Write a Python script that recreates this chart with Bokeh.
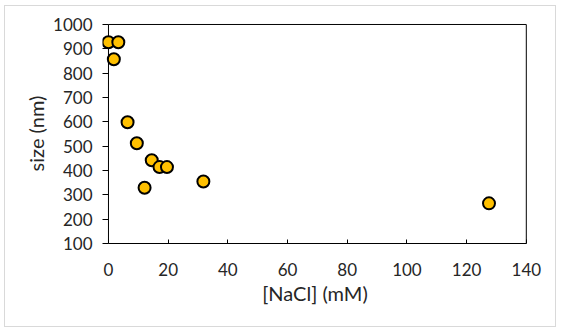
from bokeh.plotting import figure
from bokeh.models import ColumnDataSource, FixedTicker, Range1d
from bokeh.embed import file_html
from bokeh.resources import INLINE

nacl_mM = [0.0, 3.3, 1.8, 6.4, 9.5, 14.5, 17.1, 19.6, 12.1, 31.8, 127.5]
size_nm = [927, 927, 857, 598, 512, 442, 414, 414, 329, 355, 265]
x_ticks = [0, 20, 40, 60, 80, 100, 120, 140]
y_ticks = [100, 200, 300, 400, 500, 600, 700, 800, 900, 1000]
X_MIN, X_MAX = 0, 140
Y_MIN, Y_MAX = 100, 1000

FONT = "Lato"
TXT = "#262626"

# ranges padded a little so the marker at x=0 is not clipped by the frame
p = figure(width=552, height=322, output_backend="svg", toolbar_location=None,
           x_range=Range1d(X_MIN - 2.0, X_MAX + 0.4), y_range=Range1d(Y_MIN, Y_MAX + 4),
           min_border_left=97, min_border_right=30, min_border_top=17, min_border_bottom=85)
p.xgrid.visible = False
p.ygrid.visible = False
p.outline_line_color = None

# plot box: left, top and right edges
p.segment(x0=[X_MIN, X_MIN, X_MAX], y0=[Y_MIN, Y_MAX, Y_MIN],
          x1=[X_MIN, X_MAX, X_MAX], y1=[Y_MAX, Y_MAX, Y_MAX],
          line_color="black", line_width=1)

src = ColumnDataSource(dict(x=nacl_mM, y=size_nm))
p.scatter("x", "y", source=src, size=12, fill_color="#FFC000", line_color="black", line_width=2)

p.xaxis.ticker = FixedTicker(ticks=x_ticks)
p.yaxis.ticker = FixedTicker(ticks=y_ticks)
p.xaxis.bounds = (X_MIN, X_MAX)
p.xaxis.minor_tick_line_color = None
p.yaxis.minor_tick_line_color = None
p.xaxis.major_tick_in = 4
p.xaxis.major_tick_out = 0
p.yaxis.major_tick_in = 6
p.yaxis.major_tick_out = 0
p.yaxis.axis_line_color = None
for ax in (p.xaxis, p.yaxis):
    ax.major_tick_line_color = "black"
    ax.major_label_text_font = FONT
    ax.major_label_text_font_size = "17px"
    ax.major_label_text_color = TXT
    ax.axis_label_text_font = FONT
    ax.axis_label_text_font_size = "20px"
    ax.axis_label_text_font_style = "normal"
    ax.axis_label_text_color = TXT
p.xaxis.axis_line_color = "black"
p.yaxis.major_label_text_align = "center"
p.xaxis.major_label_standoff = 19
p.yaxis.major_label_standoff = 10
p.xaxis.axis_label = "[NaCl] (mM)"
p.yaxis.axis_label = "size (nm)"
p.xaxis.axis_label_standoff = 2
p.yaxis.axis_label_standoff = 2
p.styles = {"border": "1px solid #d9d9d9", "box-sizing": "border-box",
            "margin-left": "4px", "margin-top": "5px"}

open("out.html", "w").write(file_html(p, INLINE))
